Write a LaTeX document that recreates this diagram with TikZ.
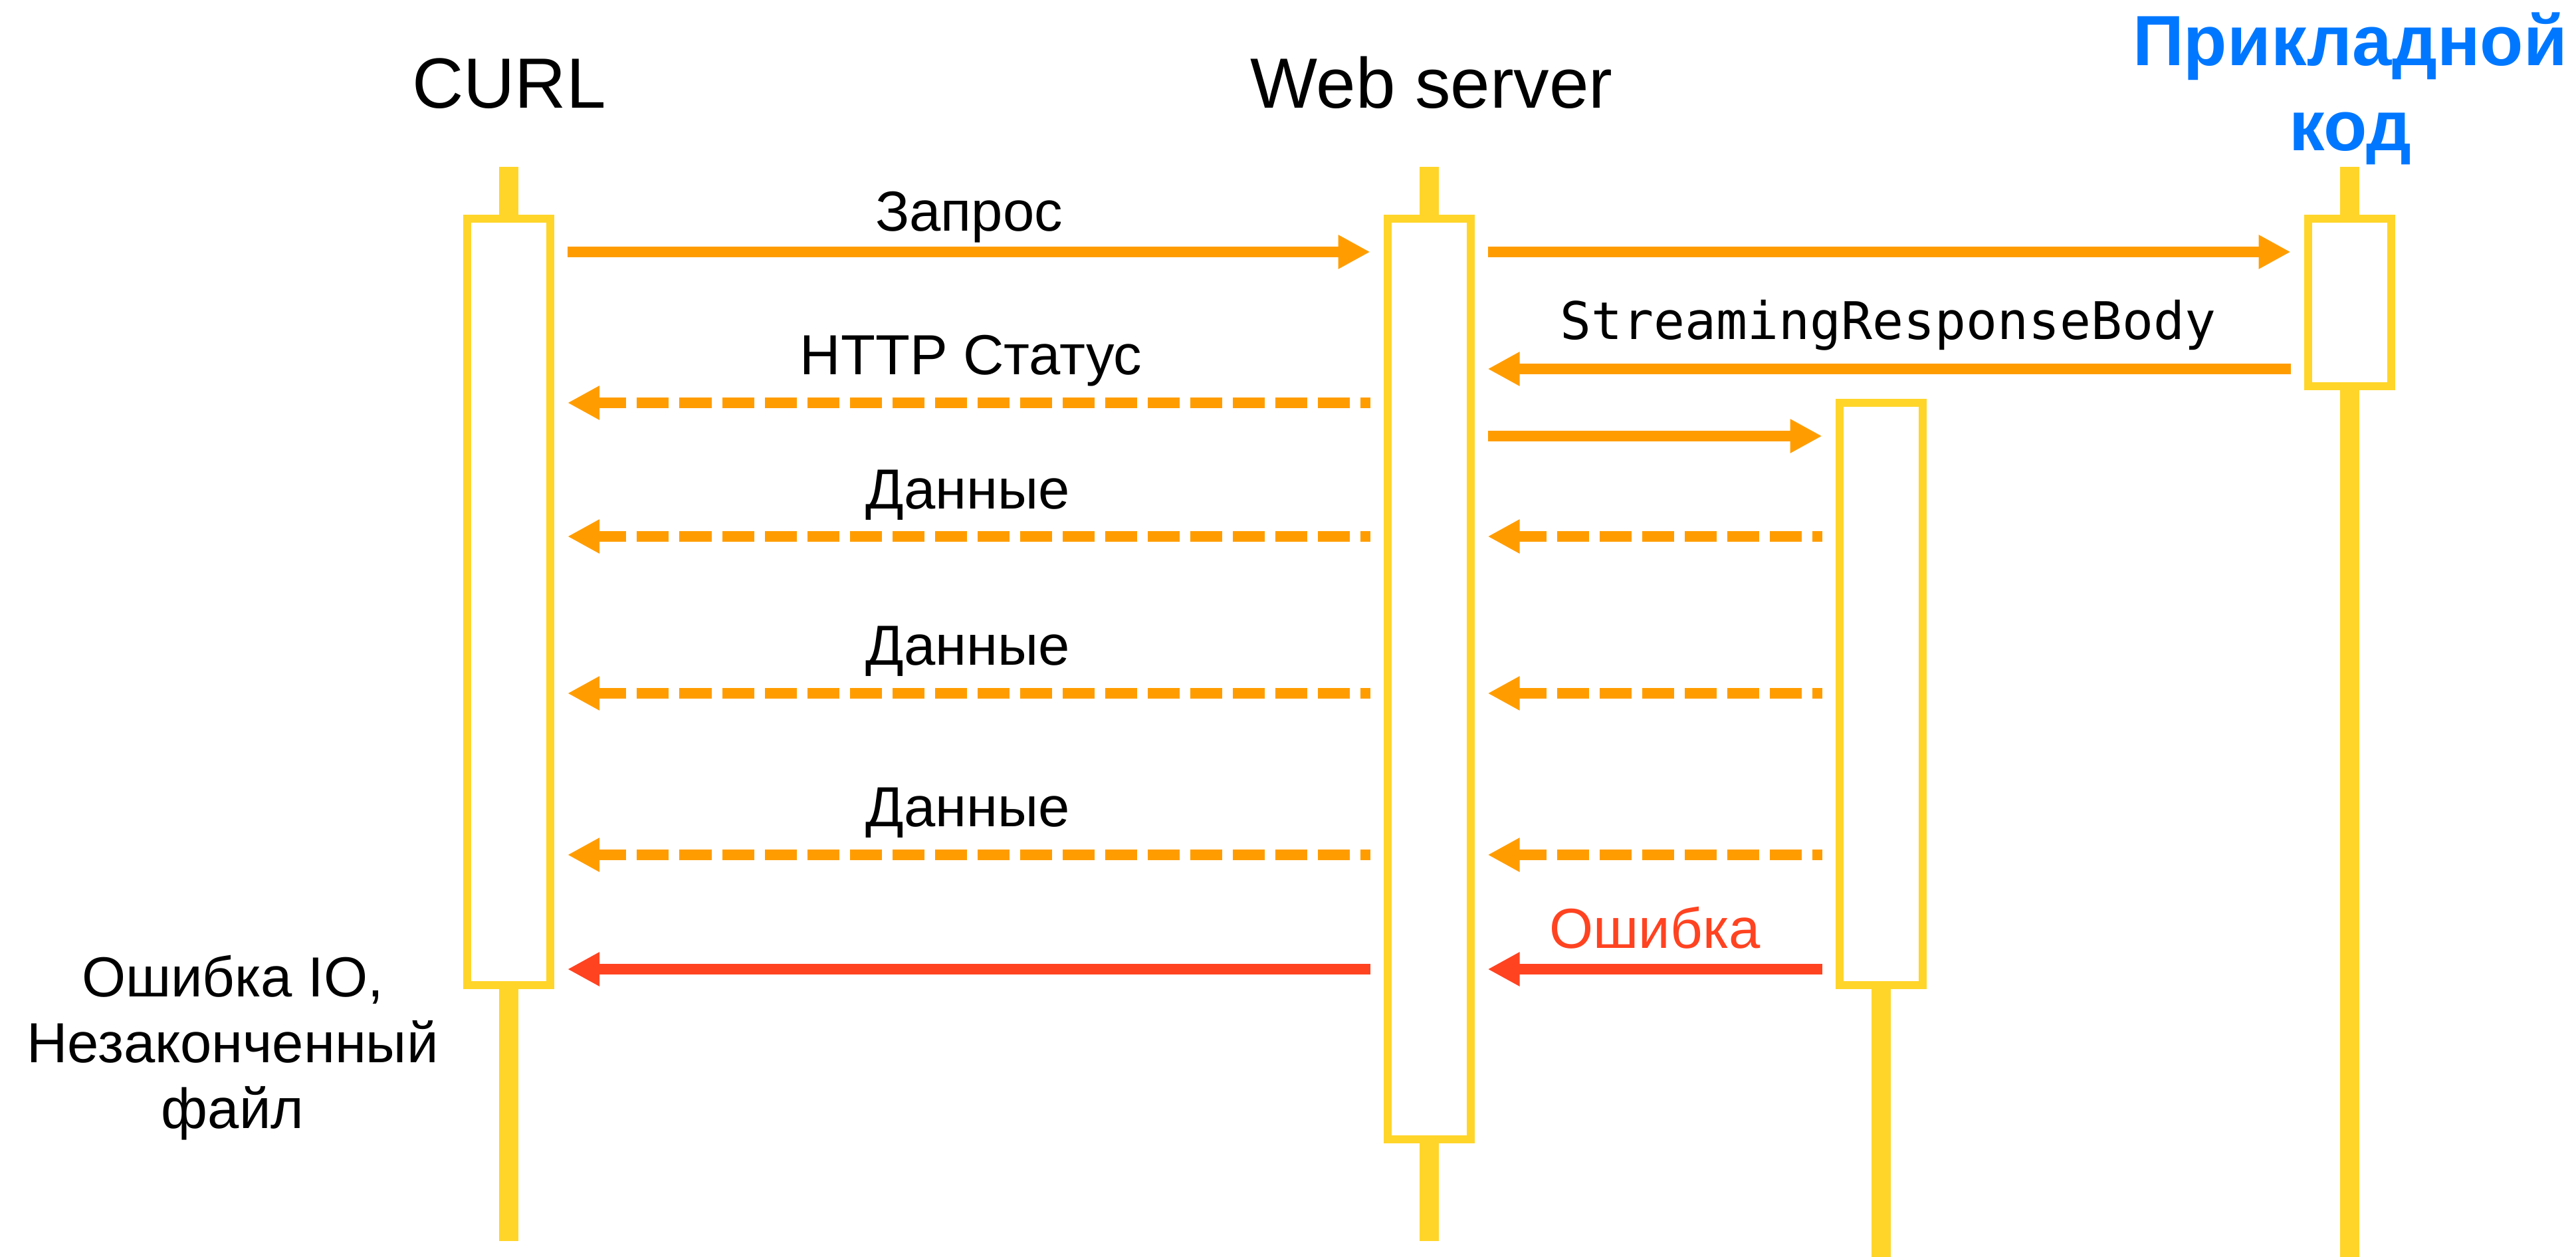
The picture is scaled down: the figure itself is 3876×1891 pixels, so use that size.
\documentclass[tikz,border=0pt]{standalone}
\usepackage{fontspec}
\setmainfont{Liberation Sans}
\setmonofont{DejaVu Sans Mono}
\usetikzlibrary{arrows.meta}

\definecolor{lifeyellow}{RGB}{255,213,42}
\definecolor{msgorange}{RGB}{255,157,0}
\definecolor{errred}{RGB}{255,67,33}
\definecolor{appblue}{RGB}{0,119,255}

\begin{document}
\begin{tikzpicture}[x=0.2pt,y=-0.2pt,
  lifeline/.style={draw=lifeyellow, line width=5.8pt},
  actbox/.style={draw=lifeyellow, fill=white, line width=2.4pt,
    minimum width=25pt, inner sep=0pt},
  msg/.style={draw=msgorange, line width=3.2pt, shorten <=4pt, shorten >=4pt,
    -{Triangle[length=9.6pt,width=9.6pt]}},
  reply/.style={msg, dash pattern=on 9.6pt off 3.2pt, dash phase=6.6pt},
  fail/.style={msg, draw=errred},
  title/.style={font=\fontsize{21.4}{25.6}\selectfont, inner sep=0pt, anchor=base},
  label/.style={font=\fontsize{17}{19.8}\selectfont, inner sep=0pt, anchor=base},
]
\useasboundingbox (0,0) rectangle (3876,1891);

% participants (multi-line nodes sit on the baseline of their last line)
\node[title] (curlname) at (766,163) {CURL};
\node[title] (webname) at (2154,163) {Web server};
\node[title, font=\fontsize{21.4}{25.6}\selectfont\bfseries, text=appblue, align=center]
  (appname) at (3536,227) {Прикладной\\код};

% lifeline ends
\coordinate (curltop) at (765.5,251);
\coordinate (curlbot) at (765.5,1867);
\coordinate (webtop) at (2150,251);
\coordinate (webbot) at (2150,1867);
\coordinate (streambot) at (2830,1891);
\coordinate (apptop) at (3535,251);
\coordinate (appbot) at (3535,1891);

% activation boxes
\path
  (765.5,905.5) node[actbox, minimum height=230.6pt] (curlbox) {}
  (2150,1021.5) node[actbox, minimum height=277pt] (webbox) {}
  (2830,1044) node[actbox, minimum height=175.2pt] (streambox) {}
  (3535,455) node[actbox, minimum height=50.4pt] (appbox) {};

% lifelines
\draw[lifeline] (curltop) -- (curlbox.north) (curlbox.south) -- (curlbot);
\draw[lifeline] (webtop) -- (webbox.north) (webbox.south) -- (webbot);
\draw[lifeline] (streambox.south) -- (streambot);
\draw[lifeline] (apptop) -- (appbox.north) (appbox.south) -- (appbot);

% redraw boxes over the lifelines
\path
  (765.5,905.5) node[actbox, minimum height=230.6pt] {}
  (2150,1021.5) node[actbox, minimum height=277pt] {}
  (2830,1044) node[actbox, minimum height=175.2pt] {}
  (3535,455) node[actbox, minimum height=50.4pt] {};

% message rows
\coordinate (r1) at (0,379);
\coordinate (r2) at (0,555);
\coordinate (r3) at (0,606);
\coordinate (r4) at (0,656);
\coordinate (r5) at (0,807);
\coordinate (r6) at (0,1043);
\coordinate (r7) at (0,1286);
\coordinate (r8) at (0,1458);

% messages
\draw[msg] (curlbox.east |- r1) -- (webbox.west |- r1);
\draw[msg] (webbox.east |- r1) -- (appbox.west |- r1);
\draw[msg] (appbox.west |- r2) -- (webbox.east |- r2);
\draw[reply] (webbox.west |- r3) -- (curlbox.east |- r3);
\draw[msg] (webbox.east |- r4) -- (streambox.west |- r4);
\foreach \r in {r5,r6,r7}{
  \draw[reply] (streambox.west |- \r) -- (webbox.east |- \r);
  \draw[reply] (webbox.west |- \r) -- (curlbox.east |- \r);
}
\draw[fail] (streambox.west |- r8) -- (webbox.east |- r8);
\draw[fail] (webbox.west |- r8) -- (curlbox.east |- r8);

% message labels
\node[label] (lreq) at (1458,347) {Запрос};
\node[label, font=\fontsize{15.6}{18}\selectfont\ttfamily] (lsrb) at (2841,510) {StreamingResponseBody};
\node[label] (lhttp) at (1461,563) {HTTP Статус};
\node[label] (ldata1) at (1456,765) {Данные};
\node[label] (ldata2) at (1456,1000) {Данные};
\node[label] (ldata3) at (1456,1243) {Данные};
\node[label, text=errred] (lerr) at (2490,1426) {Ошибка};
\node[label, align=center] (lio) at (350,1697) {Ошибка IO,\\Незаконченный\\файл};
\end{tikzpicture}
\end{document}
